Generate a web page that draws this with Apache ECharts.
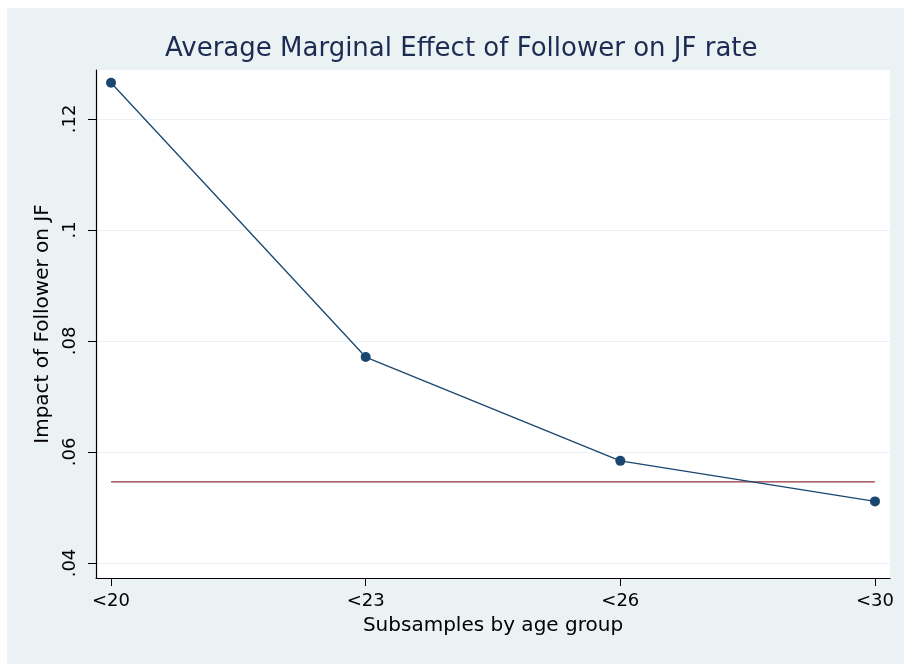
<!DOCTYPE html>
<html>
<head>
  <meta charset="UTF-8">
  <title>Average Marginal Effect of Follower on JF rate</title>
  <style>
    html, body { margin: 0; padding: 0; background: #fff; }
    #chart { width: 904px; height: 664px; }
  </style>
  <script src="https://cdn.jsdelivr.net/npm/echarts@6/dist/echarts.min.js"></script>
</head>
<body>
<div id="chart"></div>
<script>
  // data
  var ageGroups = ['<20', '<23', '<26', '<30'];
  var marginalEffect = [0.1265, 0.0771, 0.0584, 0.0511];
  var pooledEffect = 0.0546;
  var yTicks = [0.04, 0.06, 0.08, 0.1, 0.12];

  var font = 'DejaVu Sans';
  var idx = ageGroups.map(function (c, i) { return i; });

  var myChart = echarts.init(document.getElementById('chart'));
  var option = {
    animation: false,
    backgroundColor: '#fff',
    graphic: [{
      type: 'rect',
      z: -10,
      shape: { x: 7, y: 8, width: 897, height: 656 },
      style: { fill: '#eaf2f3' }
    }],
    title: {
      text: 'Average Marginal Effect of Follower on JF rate',
      left: 160,
      top: 31,
      textStyle: {
        color: '#1c2b52',
        fontFamily: font,
        fontWeight: 'normal',
        fontSize: 26
      }
    },
    grid: {
      left: 96,
      right: 14,
      top: 70,
      bottom: 86,
      show: true,
      backgroundColor: '#fff',
      borderWidth: 0
    },
    xAxis: {
      type: 'value',
      min: -0.059,
      max: 3.059,
      name: 'Subsamples by age group',
      nameLocation: 'middle',
      nameGap: 38,
      nameTextStyle: { color: '#000', fontFamily: font, fontSize: 20 },
      axisLine: { show: true, onZero: false, lineStyle: { color: '#000', width: 1.2 } },
      axisTick: { show: true, length: 8, customValues: idx, lineStyle: { color: '#000' } },
      axisLabel: {
        customValues: idx,
        margin: 14,
        color: '#000',
        fontFamily: font,
        fontSize: 18,
        formatter: function (v) { return ageGroups[v]; }
      },
      splitLine: { show: false }
    },
    yAxis: {
      type: 'value',
      min: 0.0373,
      max: 0.1288,
      name: 'Impact of Follower on JF',
      nameLocation: 'middle',
      nameGap: 41,
      nameTextStyle: { color: '#000', fontFamily: font, fontSize: 20 },
      axisLine: { show: true, onZero: false, lineStyle: { color: '#000', width: 1.2 } },
      axisTick: { show: true, length: 8, customValues: yTicks, lineStyle: { color: '#000' } },
      axisLabel: {
        customValues: yTicks,
        rotate: 90,
        margin: 17,
        color: '#000',
        fontFamily: font,
        fontSize: 18,
        formatter: function (v) {
          return String(parseFloat(v.toFixed(4))).replace(/^0\./, '.');
        }
      },
      splitLine: { show: true, lineStyle: { color: '#eaf2f3', width: 1 } }
    },
    series: [{
      name: 'AME',
      type: 'line',
      data: marginalEffect.map(function (v, i) { return [i, v]; }),
      symbol: 'circle',
      symbolSize: 10,
      lineStyle: { color: '#1a476f', width: 1.3 },
      itemStyle: { color: '#1a476f' },
      z: 3
    }, {
      name: 'pooled',
      type: 'line',
      data: ageGroups.map(function (c, i) { return [i, pooledEffect]; }),
      symbol: 'none',
      lineStyle: { color: '#90353b', width: 1.3 },
      z: 2
    }]
  };
  myChart.setOption(option);
</script>
</body>
</html>
